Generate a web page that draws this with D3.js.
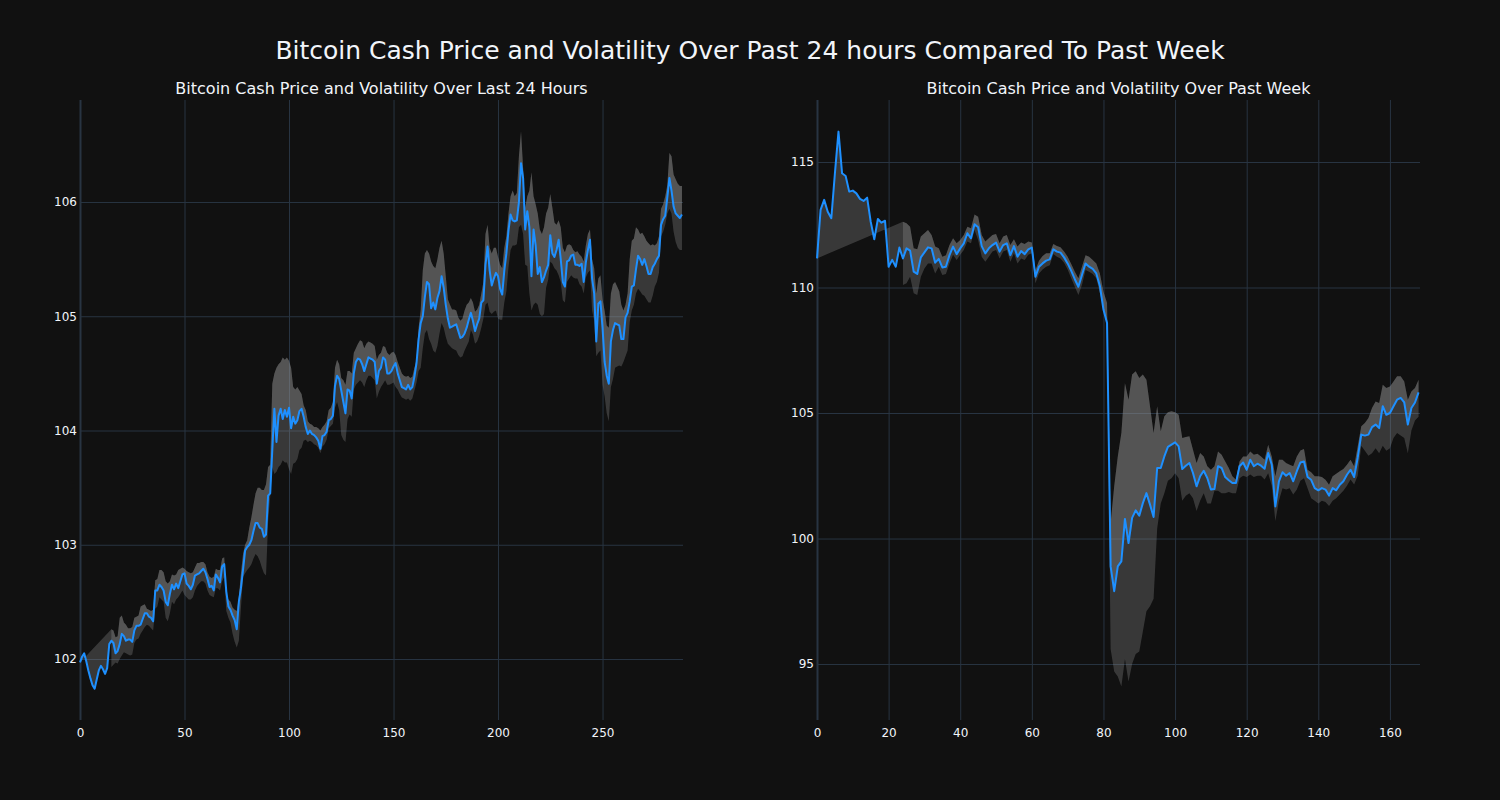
<!DOCTYPE html>
<html>
<head>
<meta charset="utf-8">
<script src="https://cdn.jsdelivr.net/npm/d3@7"></script>
<style>
  html, body { margin: 0; padding: 0; background: #111111; }
  svg { display: block; }
</style>
</head>
<body>
<script>
// ---------------- DATA ----------------
const chartTitle = "Bitcoin Cash Price and Volatility Over Past 24 hours Compared To Past Week";
const leftTitle = "Bitcoin Cash Price and Volatility Over Last 24 Hours";
const rightTitle = "Bitcoin Cash Price and Volatility Over Past Week";

const leftXTicks = [0, 50, 100, 150, 200, 250];
const leftYTicks = [102, 103, 104, 105, 106];
const rightXTicks = [0, 20, 40, 60, 80, 100, 120, 140, 160];
const rightYTicks = [95, 100, 105, 110, 115];

// 24h price (5-minute steps, index 0..288)
const dayPrice = [
101.97,102.02,102.05,101.98,101.90,101.83,101.77,101.74,101.82,101.90,
101.94,101.91,101.87,101.92,102.13,102.16,102.14,102.05,102.07,102.13,
102.22,102.20,102.16,102.17,102.17,102.15,102.25,102.29,102.29,102.30,
102.35,102.40,102.40,102.37,102.36,102.33,102.60,102.60,102.65,102.63,
102.60,102.50,102.47,102.57,102.65,102.61,102.66,102.62,102.68,102.74,
102.75,102.66,102.64,102.61,102.65,102.73,102.74,102.75,102.77,102.79,
102.76,102.70,102.63,102.64,102.60,102.74,102.71,102.67,102.81,102.83,
102.59,102.46,102.43,102.38,102.34,102.26,102.50,102.62,102.78,102.95,
102.98,103.00,103.04,103.12,103.19,103.19,103.15,103.14,103.07,103.09,
103.43,103.45,103.83,104.19,103.90,104.13,104.19,104.10,104.18,104.12,
104.20,104.02,104.12,104.06,104.09,104.17,104.19,104.12,104.03,103.97,
104.00,103.97,103.96,103.94,103.91,103.84,103.95,103.96,103.99,104.09,
104.10,104.13,104.39,104.48,104.45,104.35,104.25,104.15,104.36,104.35,
104.28,104.50,104.60,104.63,104.62,104.58,104.52,104.58,104.64,104.63,
104.62,104.60,104.41,104.52,104.55,104.64,104.62,104.50,104.50,104.52,
104.56,104.59,104.50,104.44,104.38,104.37,104.36,104.40,104.36,104.38,
104.47,104.59,104.80,104.94,105.00,105.17,105.30,105.28,105.07,105.12,
105.06,105.16,105.22,105.35,105.25,105.10,104.98,104.90,104.91,104.92,
104.93,104.87,104.81,104.82,104.85,104.90,104.97,105.03,104.96,104.87,
104.93,104.98,105.12,105.14,105.45,105.61,105.40,105.27,105.33,105.38,
105.35,105.24,105.19,105.40,105.55,105.75,105.89,105.84,105.83,105.84,
106.00,106.34,106.21,105.76,105.92,105.78,105.35,105.76,105.62,105.37,
105.43,105.30,105.34,105.40,105.45,105.71,105.55,105.52,105.58,105.67,
105.50,105.30,105.26,105.48,105.49,105.53,105.54,105.45,105.45,105.44,
105.46,105.30,105.47,105.58,105.67,105.33,105.20,104.78,105.11,105.13,
104.90,104.60,104.48,104.41,104.78,104.88,104.94,104.93,104.92,104.80,
104.80,104.99,105.03,105.13,105.26,105.27,105.41,105.53,105.50,105.45,
105.50,105.44,105.37,105.37,105.43,105.46,105.50,105.53,105.80,105.85,
105.88,106.04,106.21,106.10,105.96,105.90,105.88,105.86,105.89
];

// 24h volatility band (null before the rolling window fills)
const dayUpper = [
null,null,null,null,null,null,null,null,null,null,
null,null,null,null,null,102.26,102.25,102.19,102.20,102.36,
102.38,102.32,102.30,102.27,102.27,102.28,102.36,102.37,102.38,102.46,
102.47,102.48,102.44,102.43,102.42,102.43,102.69,102.70,102.78,102.78,
102.76,102.68,102.66,102.68,102.74,102.73,102.74,102.78,102.79,102.80,
102.79,102.77,102.76,102.75,102.76,102.80,102.84,102.84,102.85,102.85,
102.83,102.76,102.72,102.71,102.72,102.79,102.78,102.78,102.88,102.89,
102.55,102.52,102.50,102.45,102.43,102.42,102.54,102.75,102.92,103.00,
103.04,103.15,103.24,103.35,103.45,103.50,103.50,103.48,103.48,103.53,
103.68,103.70,104.41,104.50,104.55,104.58,104.60,104.64,104.62,104.64,
104.61,104.55,104.38,104.36,104.38,104.35,104.32,104.22,104.18,104.08,
104.06,104.05,104.03,104.03,104.02,104.00,104.03,104.05,104.08,104.18,
104.20,104.25,104.55,104.62,104.58,104.46,104.44,104.40,104.52,104.52,
104.50,104.68,104.72,104.76,104.79,104.78,104.72,104.76,104.78,104.77,
104.76,104.74,104.62,104.66,104.68,104.74,104.73,104.68,104.66,104.68,
104.69,104.66,104.60,104.55,104.50,104.48,104.47,104.48,104.46,104.47,
104.55,104.62,104.90,105.05,105.40,105.55,105.58,105.55,105.48,105.44,
105.42,105.50,105.60,105.66,105.55,105.35,105.15,105.10,105.06,105.06,
105.05,104.99,104.96,104.98,105.05,105.10,105.12,105.16,105.12,105.04,
105.06,105.10,105.20,105.30,105.72,105.80,105.60,105.55,105.60,105.60,
105.52,105.45,105.42,105.60,105.70,105.90,106.05,106.10,106.05,106.08,
106.40,106.62,106.30,105.95,106.05,106.10,106.26,106.05,105.98,105.90,
105.76,105.72,105.78,105.90,105.95,106.07,105.95,105.82,105.80,105.84,
105.78,105.60,105.56,105.62,105.63,105.62,105.58,105.56,105.57,105.54,
105.52,105.48,105.62,105.72,105.76,105.50,105.42,105.20,105.33,105.36,
105.15,105.05,104.92,104.90,105.20,105.28,105.30,105.26,105.22,105.10,
105.05,105.10,105.20,105.50,105.66,105.68,105.78,105.76,105.72,105.73,
105.70,105.66,105.64,105.62,105.63,105.62,105.64,105.70,105.94,105.98,
106.05,106.15,106.43,106.40,106.24,106.20,106.16,106.14,106.14
];
const dayLower = [
null,null,null,null,null,null,null,null,null,null,
null,null,null,null,null,101.93,101.95,101.97,101.96,102.00,
102.03,102.06,102.05,102.04,102.03,102.04,102.14,102.17,102.18,102.22,
102.25,102.28,102.30,102.29,102.27,102.25,102.44,102.46,102.54,102.52,
102.50,102.36,102.33,102.40,102.50,102.48,102.52,102.54,102.57,102.60,
102.56,102.54,102.52,102.52,102.54,102.60,102.64,102.66,102.68,102.68,
102.66,102.60,102.56,102.55,102.54,102.62,102.62,102.60,102.68,102.72,
102.42,102.36,102.32,102.22,102.15,102.10,102.16,102.45,102.72,102.75,
102.78,102.80,102.83,102.88,102.92,102.90,102.86,102.80,102.75,102.73,
103.20,103.42,103.68,103.62,103.64,103.68,103.70,103.74,103.72,103.72,
103.66,103.62,103.71,103.72,103.75,103.83,103.85,103.91,103.92,103.90,
103.91,103.90,103.88,103.87,103.85,103.80,103.86,103.88,103.92,104.02,
104.04,104.06,104.20,104.25,104.18,103.96,103.92,103.90,104.10,104.14,
104.12,104.36,104.40,104.42,104.44,104.42,104.38,104.44,104.48,104.48,
104.46,104.44,104.28,104.34,104.38,104.41,104.44,104.40,104.40,104.41,
104.42,104.38,104.36,104.32,104.29,104.28,104.27,104.28,104.26,104.28,
104.35,104.42,104.52,104.55,104.72,104.85,104.88,104.80,104.76,104.70,
104.68,104.74,104.85,104.94,104.90,104.82,104.76,104.74,104.72,104.71,
104.70,104.66,104.64,104.65,104.70,104.74,104.78,104.88,104.84,104.76,
104.78,104.83,104.90,104.98,105.10,105.12,105.04,105.02,105.04,105.05,
104.98,104.97,104.97,105.12,105.22,105.43,105.58,105.62,105.62,105.63,
105.78,105.80,105.72,105.45,105.44,105.20,105.05,105.10,105.12,105.10,
105.02,105.00,105.02,105.25,105.32,105.48,105.46,105.42,105.40,105.36,
105.30,105.14,105.12,105.30,105.33,105.36,105.34,105.33,105.33,105.28,
105.26,105.20,105.34,105.38,105.40,105.05,104.96,104.65,104.68,104.70,
104.40,104.30,104.15,104.08,104.38,104.45,104.55,104.56,104.57,104.56,
104.60,104.65,104.70,104.95,105.05,105.10,105.20,105.24,105.22,105.19,
105.18,105.15,105.12,105.12,105.18,105.26,105.30,105.38,105.70,105.74,
105.80,105.90,105.94,105.90,105.74,105.65,105.60,105.58,105.58
];

// Week price (hourly steps, index 0..168)
const weekPrice = [
111.16,113.09,113.49,113.02,112.76,114.55,116.21,114.55,114.44,113.82,
113.86,113.75,113.53,113.45,113.58,112.62,111.92,112.73,112.58,112.66,
110.83,111.10,110.83,111.59,111.16,111.56,111.47,110.63,110.54,111.20,
111.40,111.60,111.56,110.99,111.14,110.80,110.83,111.29,111.63,111.33,
111.56,111.76,112.16,111.96,112.52,112.40,111.65,111.36,111.56,111.69,
111.79,111.43,111.69,111.76,111.29,111.65,111.23,111.45,111.33,111.52,
111.59,110.43,110.83,110.96,111.07,111.12,111.52,111.43,111.39,111.20,
110.96,110.66,110.33,110.03,110.50,110.96,110.83,110.74,110.56,110.06,
109.12,108.59,98.89,97.90,98.89,99.09,100.78,99.82,100.82,101.12,
100.91,101.41,101.81,101.35,100.86,102.81,102.81,103.27,103.65,103.74,
103.83,103.67,102.77,102.90,103.01,102.61,102.08,102.48,102.70,102.41,
101.95,101.97,102.88,102.81,102.45,102.32,102.21,102.21,102.88,103.03,
102.74,103.14,102.88,102.98,102.90,102.78,103.41,102.94,101.28,102.28,
102.64,102.50,102.61,102.28,102.68,103.03,103.07,102.45,102.34,102.01,
101.92,102.01,101.95,101.71,102.01,101.92,102.14,102.28,102.54,102.74,
102.45,103.21,104.14,104.10,104.14,104.44,104.54,104.40,105.27,104.93,
105.00,105.27,105.53,105.60,105.42,104.54,105.20,105.42,105.82
];

const weekUpper = [
null,null,null,null,null,null,null,null,null,null,
null,null,null,null,null,null,null,null,null,null,
null,null,null,null,112.62,112.56,112.42,111.56,111.52,112.03,
112.16,112.29,112.09,111.63,111.56,111.23,111.29,111.69,111.96,111.76,
111.89,112.09,112.42,112.36,112.91,112.82,112.09,111.83,111.96,112.09,
112.13,111.76,112.03,112.09,111.69,111.92,111.63,111.79,111.73,111.83,
111.79,110.70,111.07,111.26,111.36,111.36,111.73,111.65,111.60,111.43,
111.23,110.94,110.63,110.37,110.83,111.29,111.23,111.10,110.96,110.56,
109.83,109.38,100.62,102.08,103.27,104.20,106.20,105.53,106.53,106.66,
106.39,106.53,106.33,105.27,104.20,105.27,104.27,104.87,105.03,105.07,
105.03,104.93,104.00,104.04,104.07,103.54,103.01,103.41,103.27,102.88,
102.74,102.88,103.47,103.34,103.07,102.81,102.48,102.34,103.07,103.27,
103.27,103.47,103.34,103.38,103.27,103.14,103.74,103.27,102.48,103.14,
103.14,103.01,102.94,102.88,103.27,103.51,103.57,102.74,102.64,102.48,
102.48,102.45,102.34,102.14,102.48,102.58,102.68,102.77,102.94,103.14,
102.88,103.67,104.47,104.60,104.80,105.20,105.46,105.40,106.13,106.00,
106.06,106.26,106.46,106.46,106.26,105.53,105.86,106.00,106.33
];
const weekLower = [
null,null,null,null,null,null,null,null,null,null,
null,null,null,null,null,null,null,null,null,null,
null,null,null,null,110.10,110.17,110.43,109.77,109.70,110.43,
110.76,110.96,110.96,110.56,110.83,110.50,110.54,110.96,111.30,111.10,
111.30,111.49,111.83,111.76,112.29,111.89,111.23,111.03,111.23,111.43,
111.49,111.16,111.43,111.49,111.03,111.36,110.96,111.16,111.10,111.30,
111.36,110.17,110.56,110.72,110.83,110.89,111.33,111.23,111.16,110.99,
110.72,110.37,110.03,109.70,110.10,110.70,110.63,110.54,110.37,109.77,
109.17,108.52,95.60,94.70,94.50,94.10,95.20,94.30,95.00,95.40,
95.50,96.30,97.10,97.30,97.60,100.40,101.40,101.80,102.30,102.40,
102.60,102.40,101.50,101.70,101.80,101.60,101.10,101.50,101.80,101.40,
101.40,101.90,101.90,101.80,101.80,101.85,101.80,101.80,102.40,102.50,
102.45,102.55,102.45,102.50,102.50,102.35,102.60,102.10,100.70,101.50,
102.00,101.95,102.00,101.75,101.95,102.30,102.40,102.00,101.60,101.50,
101.40,101.50,101.45,101.30,101.50,101.60,101.75,101.90,102.10,102.35,
102.15,102.50,103.70,103.50,103.30,103.40,103.60,103.40,103.70,103.50,
103.60,104.00,104.20,104.10,104.00,103.40,104.30,104.70,104.85
];

// ---------------- DRAWING ----------------
const W = 1500, H = 800;
const FONT = "'DejaVu Sans', Verdana, sans-serif";
const TEXT = "#f2f5fa";
const GRID = "#283442";
const LINE = "#1e90ff";
const FILL = "rgba(150,150,150,0.30)";

const svg = d3.select("body").append("svg")
  .attr("width", W).attr("height", H)
  .style("background", "#111111");

svg.append("text")
  .attr("x", W / 2).attr("y", 59)
  .attr("text-anchor", "middle")
  .attr("fill", TEXT)
  .style("font-family", FONT).style("font-size", "25px")
  .text(chartTitle);

function panel(opt) {
  const { x0, x1, y0, y1, xDomain, yDomain, xTicks, yTicks, price, upper, lower, title } = opt;
  const x = d3.scaleLinear().domain(xDomain).range([x0, x1]);
  const y = d3.scaleLinear().domain(yDomain).range([y1, y0]);
  const g = svg.append("g");

  // grid
  const gx = g.append("g").attr("transform", `translate(0,${y1})`)
    .call(d3.axisBottom(x).tickValues(xTicks).tickSize(-(y1 - y0)).tickPadding(8).tickFormat(d3.format("d")));
  gx.select(".domain").remove();
  gx.selectAll(".tick line").attr("stroke", GRID).attr("stroke-width", d => d === 0 ? 2 : 1);
  gx.selectAll(".tick text").attr("fill", TEXT).style("font-family", FONT).style("font-size", "12px");

  const gy = g.append("g").attr("transform", `translate(${x0},0)`)
    .call(d3.axisLeft(y).tickValues(yTicks).tickSize(-(x1 - x0)).tickPadding(3).tickFormat(d3.format("d")));
  gy.select(".domain").remove();
  gy.selectAll(".tick line").attr("stroke", GRID).attr("stroke-width", 1);
  gy.selectAll(".tick text").attr("fill", TEXT).style("font-family", FONT).style("font-size", "12px");

  const idx = d3.range(price.length);
  const bandIdx = idx.filter(i => upper[i] != null && lower[i] != null);

  // band: upper -> lower
  const bandPts = bandIdx.map(i => [x(i), y(upper[i])])
    .concat(bandIdx.slice().reverse().map(i => [x(i), y(lower[i])]));
  const lineGen = d3.line();
  g.append("path").attr("d", lineGen(bandPts) + "Z").attr("fill", FILL).attr("stroke", "none");

  // price -> upper fill (plotly tonexty style, closes to first price point)
  const upPts = idx.map(i => [x(i), y(price[i])])
    .concat(bandIdx.slice().reverse().map(i => [x(i), y(upper[i])]));
  g.append("path").attr("d", lineGen(upPts) + "Z").attr("fill", FILL).attr("stroke", "none");

  // price line
  const pl = d3.line().x((d, i) => x(i)).y(d => y(d));
  g.append("path").attr("d", pl(price)).attr("fill", "none")
    .attr("stroke", LINE).attr("stroke-width", 2).attr("stroke-linejoin", "round");

  svg.append("text")
    .attr("x", (x0 + x1) / 2).attr("y", 94)
    .attr("text-anchor", "middle").attr("fill", TEXT)
    .style("font-family", FONT).style("font-size", "16px")
    .text(title);
}

panel({ x0: 80, x1: 683, y0: 100, y1: 720, xDomain: [0, 288.5], yDomain: [101.466, 106.893],
  xTicks: leftXTicks, yTicks: leftYTicks, price: dayPrice, upper: dayUpper, lower: dayLower, title: leftTitle });
panel({ x0: 817, x1: 1420, y0: 100, y1: 720, xDomain: [0, 168.4], yDomain: [92.77, 117.47],
  xTicks: rightXTicks, yTicks: rightYTicks, price: weekPrice, upper: weekUpper, lower: weekLower, title: rightTitle });
</script>
</body>
</html>
